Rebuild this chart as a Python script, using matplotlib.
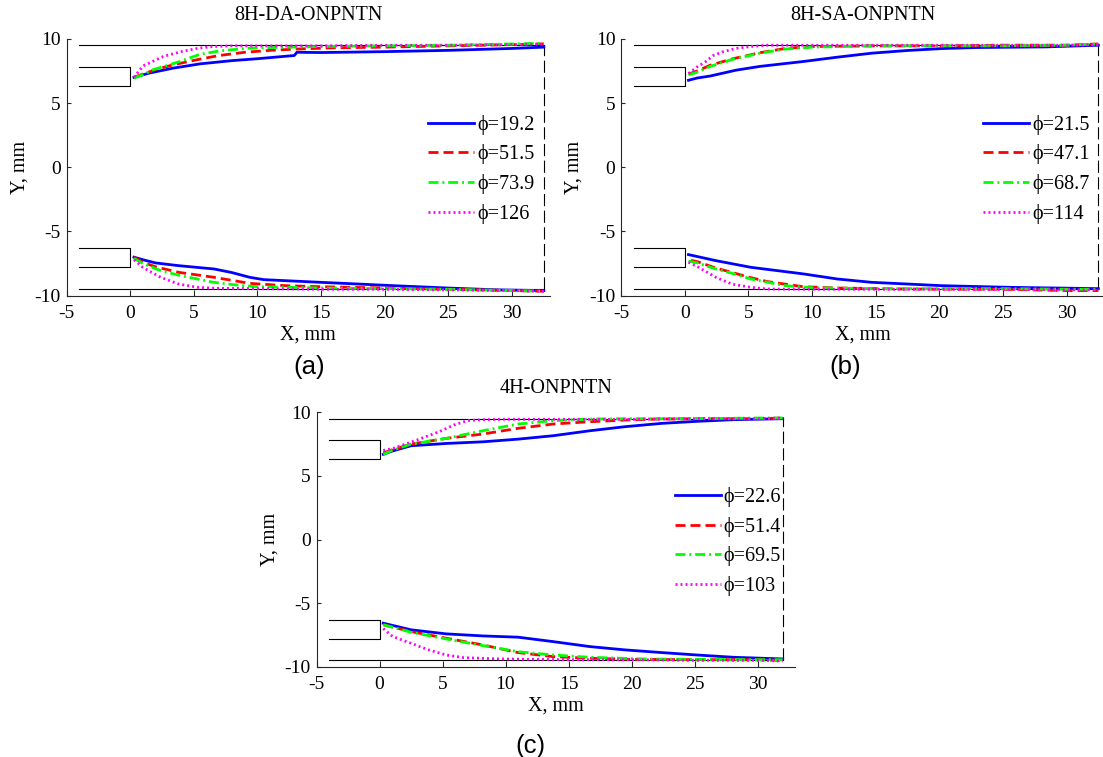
import matplotlib
matplotlib.use('Agg')
import matplotlib.pyplot as plt

plt.rcParams['font.family'] = ['Liberation Serif', 'DejaVu Serif']
plt.rcParams['axes.unicode_minus'] = False

# ---- panel (a): 8H-DA-ONPNTN ----
PHI_A = [19.2, 51.5, 73.9, 126]
A_UP_X1 = [0.3, 1.5, 3.4, 5.5, 8, 10, 12.9, 13.1, 15, 20, 25, 30, 32.5]
A_UP_Y1 = [7.0, 7.33, 7.72, 8.05, 8.3, 8.45, 8.7, 8.95, 8.93, 9.0, 9.1, 9.25, 9.35]
A_UP_X2 = [0.3, 1, 2, 3.4, 5.5, 7, 9, 11, 13, 16, 20, 25, 30, 32.5]
A_UP_Y2 = [7.0, 7.25, 7.6, 7.98, 8.42, 8.7, 8.95, 9.1, 9.2, 9.3, 9.35, 9.45, 9.55, 9.6]
A_UP_X3 = [0.3, 1, 1.8, 3, 3.9, 5.5, 7, 9, 11, 15, 20, 25, 30, 32.5]
A_UP_Y3 = [6.95, 7.2, 7.59, 7.95, 8.23, 8.8, 9.05, 9.25, 9.32, 9.4, 9.45, 9.5, 9.6, 9.65]
A_UP_X4 = [0.3, 0.7, 1.04, 2.6, 4.05, 5.36, 6.5, 8, 10, 15, 20, 25, 30, 32.5]
A_UP_Y4 = [7.0, 7.5, 7.9, 8.62, 9.01, 9.27, 9.4, 9.45, 9.45, 9.45, 9.5, 9.5, 9.55, 9.6]
A_LO_X1 = [0.3, 1, 2, 3.8, 6.6, 8, 9.4, 10.5, 12.2, 15, 17.9, 20.7, 24.9, 29, 32.5]
A_LO_Y1 = [-7.0, -7.2, -7.45, -7.66, -7.92, -8.2, -8.57, -8.75, -8.83, -8.96, -9.09, -9.22, -9.4, -9.55, -9.6]
A_LO_X2 = [0.3, 1, 2, 3.8, 6.6, 9.4, 12.2, 15, 20, 25, 30, 32.5]
A_LO_Y2 = [-7.0, -7.4, -7.75, -8.18, -8.57, -9.04, -9.22, -9.3, -9.4, -9.5, -9.6, -9.65]
A_LO_X3 = [0.3, 1, 2.4, 4, 5.3, 6.5, 8.1, 10, 15, 20, 25, 30, 32.5]
A_LO_Y3 = [-7.1, -7.5, -8.05, -8.45, -8.7, -8.95, -9.14, -9.3, -9.4, -9.45, -9.5, -9.6, -9.65]
A_LO_X4 = [0.3, 1, 2.4, 3.8, 5.3, 6.6, 10, 15, 20, 25, 30, 32.5]
A_LO_Y4 = [-7.2, -7.8, -8.57, -9.09, -9.35, -9.42, -9.45, -9.5, -9.5, -9.55, -9.6, -9.65]

# ---- panel (b): 8H-SA-ONPNTN ----
PHI_B = [21.5, 47.1, 68.7, 114]
B_UP_X1 = [0.3, 1, 2, 4, 5.9, 9.3, 12, 14.7, 17.5, 20.2, 22.9, 28.4, 32.5]
B_UP_Y1 = [6.77, 6.95, 7.1, 7.55, 7.85, 8.23, 8.57, 8.88, 9.09, 9.24, 9.32, 9.37, 9.5]
B_UP_X2 = [0.3, 1, 2, 3.84, 5.94, 7.9, 10, 15, 20, 25, 30, 32.5]
B_UP_Y2 = [7.25, 7.5, 7.94, 8.46, 8.92, 9.25, 9.4, 9.45, 9.45, 9.5, 9.5, 9.6]
B_UP_X3 = [0.3, 1, 2, 3.84, 5.94, 7.9, 10, 15, 20, 25, 30, 32.5]
B_UP_Y3 = [7.2, 7.4, 7.85, 8.42, 8.88, 9.2, 9.35, 9.45, 9.45, 9.45, 9.5, 9.6]
B_UP_X4 = [0.3, 0.97, 1.6, 2.27, 2.93, 4, 5.2, 6.5, 10, 20, 30, 32.5]
B_UP_Y4 = [7.3, 7.8, 8.19, 8.71, 8.97, 9.25, 9.4, 9.5, 9.5, 9.5, 9.5, 9.55]
B_LO_X1 = [0.3, 2.45, 5.2, 9.3, 12, 14.7, 17.5, 20.2, 25.6, 32.5]
B_LO_Y1 = [-6.8, -7.27, -7.79, -8.3, -8.7, -8.96, -9.09, -9.22, -9.35, -9.45]
B_LO_X2 = [0.5, 1, 2.45, 3.7, 5, 6.5, 9.3, 12, 17.5, 25, 30, 32.5]
B_LO_Y2 = [-7.25, -7.35, -7.85, -8.18, -8.55, -8.9, -9.3, -9.4, -9.48, -9.5, -9.6, -9.6]
B_LO_X3 = [0.3, 1, 2.45, 3.7, 5.2, 7.9, 10, 15, 20, 25, 30, 32.5]
B_LO_Y3 = [-7.3, -7.45, -7.92, -8.25, -8.7, -9.22, -9.38, -9.45, -9.45, -9.45, -9.5, -9.5]
B_LO_X4 = [0.3, 1.1, 2.45, 3.7, 5.2, 6.5, 10, 20, 32.5]
B_LO_Y4 = [-7.4, -7.79, -8.57, -9.09, -9.35, -9.48, -9.5, -9.5, -9.55]

# ---- panel (c): 4H-ONPNTN ----
PHI_C = [22.6, 51.4, 69.5, 103]
C_UP_X1 = [0.3, 1, 2.5, 5.3, 8.2, 11, 13.8, 16.7, 19.5, 22.4, 25.2, 28.1, 32]
C_UP_Y1 = [6.7, 6.95, 7.37, 7.55, 7.68, 7.89, 8.16, 8.55, 8.87, 9.13, 9.29, 9.42, 9.5]
C_UP_X2 = [0.3, 1, 2.5, 5.3, 8.2, 11, 13.8, 16.7, 19.5, 22, 26, 30, 32]
C_UP_Y2 = [6.8, 7.05, 7.5, 7.95, 8.29, 8.74, 9.08, 9.26, 9.39, 9.47, 9.5, 9.5, 9.55]
C_UP_X3 = [0.3, 1, 2.5, 5.3, 8.2, 11, 13.8, 16.7, 20, 25, 30, 32]
C_UP_Y3 = [6.7, 7.0, 7.5, 7.95, 8.55, 9.08, 9.34, 9.47, 9.5, 9.5, 9.55, 9.55]
C_UP_X4 = [0.3, 1.1, 2.97, 4.8, 5.9, 7, 8.2, 10, 15, 20, 25, 30, 32]
C_UP_Y4 = [7.0, 7.17, 7.82, 8.5, 9.0, 9.35, 9.42, 9.45, 9.45, 9.45, 9.5, 9.5, 9.55]
C_LO_X1 = [0.3, 2.5, 5.3, 8.2, 11, 13.8, 16.7, 19.5, 22.4, 25.2, 28.1, 32]
C_LO_Y1 = [-6.58, -7.1, -7.42, -7.58, -7.68, -8.03, -8.42, -8.68, -8.89, -9.08, -9.26, -9.39]
C_LO_X2 = [0.3, 2.5, 5.3, 8.2, 11, 13.8, 16.7, 20, 25, 30, 32]
C_LO_Y2 = [-6.7, -7.24, -7.76, -8.29, -8.89, -9.21, -9.34, -9.42, -9.45, -9.45, -9.5]
C_LO_X3 = [0.3, 2.5, 5.3, 8.2, 11, 13.8, 16.7, 20.9, 25, 30, 32]
C_LO_Y3 = [-6.7, -7.29, -7.82, -8.34, -8.82, -9.08, -9.26, -9.39, -9.42, -9.45, -9.45]
C_LO_X4 = [0.3, 1.05, 2.5, 3.9, 5.3, 6.7, 9.6, 15, 20, 25, 30, 32]
C_LO_Y4 = [-7.0, -7.63, -8.16, -8.68, -9.08, -9.29, -9.39, -9.45, -9.45, -9.5, -9.5, -9.55]

X_TICKS = [-5, 0, 5, 10, 15, 20, 25, 30]
Y_TICKS = [-10, -5, 0, 5, 10]

# line styles for the four flow rates
COLORS = ['#0000ff', '#ff0000', '#00ff00', '#ff00ff']
STYLES = ['-', (0, (3.6, 1.8)), (0, (3.6, 1.4, 0.7, 1.4)), (0, (0.7, 1.1))]
FS = 14.5
FS_TICK = 14


def draw_panel(ax, title, phis, upper, lower, x_end):
    # chamber walls and inlet slots
    ax.plot([-4, x_end], [9.5, 9.5], color='black', lw=0.8)
    ax.plot([-4, x_end], [-9.5, -9.5], color='black', lw=0.8)
    for s in (1, -1):
        ax.plot([-4, 0, 0, -4], [7.8 * s, 7.8 * s, 6.3 * s, 6.3 * s], color='black', lw=0.8)
    ax.plot([x_end, x_end], [-9.5, 9.5], color='black', lw=0.8, linestyle=(0, (11, 4)))

    handles = []
    for i in range(4):
        h, = ax.plot(upper[i][0], upper[i][1], color=COLORS[i], ls=STYLES[i], lw=2.0)
        ax.plot(lower[i][0], lower[i][1], color=COLORS[i], ls=STYLES[i], lw=2.0)
        handles.append(h)
    labels = ['\u03d5=%g' % p for p in phis]
    ax.legend(handles, labels, loc='center left', bbox_to_anchor=(23.42, -0.15),
              bbox_transform=ax.transData, frameon=False, borderpad=0, borderaxespad=0,
              handlelength=2.29, handletextpad=0.15, labelspacing=0.48, fontsize=FS)

    ax.set_xlim(-5, 33)
    ax.set_ylim(-10, 10)
    ax.set_xticks(X_TICKS)
    ax.set_yticks(Y_TICKS)
    for side in ('top', 'right'):
        ax.spines[side].set_visible(False)
    for side in ('left', 'bottom'):
        ax.spines[side].set_color('#262626')
        ax.spines[side].set_linewidth(0.8)
    ax.tick_params(axis='x', direction='in', length=4, width=0.8, color='#262626', pad=7, labelsize=FS_TICK)
    ax.tick_params(axis='y', direction='in', length=3, width=0.8, color='#262626', pad=4, labelsize=FS_TICK)
    ax.set_xlabel('X, mm', fontsize=FS, labelpad=2)
    ax.set_ylabel('Y, mm', fontsize=FS, labelpad=4)
    ax.set_title(title, fontsize=FS, pad=13.7)


W, H = 1103, 757
fig = plt.figure(figsize=(W / 100, H / 100), dpi=100)

ax_a = fig.add_axes([66.5 / W, 1 - 295.7 / H, 483.7 / W, 256.9 / H])
ax_b = fig.add_axes([621 / W, 1 - 295.7 / H, 483.7 / W, 256.9 / H])
ax_c = fig.add_axes([316.5 / W, 1 - 666.7 / H, 478.8 / W, 254.4 / H])

draw_panel(ax_a, '8H-DA-ONPNTN', PHI_A,
           [(A_UP_X1, A_UP_Y1), (A_UP_X2, A_UP_Y2), (A_UP_X3, A_UP_Y3), (A_UP_X4, A_UP_Y4)],
           [(A_LO_X1, A_LO_Y1), (A_LO_X2, A_LO_Y2), (A_LO_X3, A_LO_Y3), (A_LO_X4, A_LO_Y4)], 32.5)
draw_panel(ax_b, '8H-SA-ONPNTN', PHI_B,
           [(B_UP_X1, B_UP_Y1), (B_UP_X2, B_UP_Y2), (B_UP_X3, B_UP_Y3), (B_UP_X4, B_UP_Y4)],
           [(B_LO_X1, B_LO_Y1), (B_LO_X2, B_LO_Y2), (B_LO_X3, B_LO_Y3), (B_LO_X4, B_LO_Y4)], 32.5)
draw_panel(ax_c, '4H-ONPNTN', PHI_C,
           [(C_UP_X1, C_UP_Y1), (C_UP_X2, C_UP_Y2), (C_UP_X3, C_UP_Y3), (C_UP_X4, C_UP_Y4)],
           [(C_LO_X1, C_LO_Y1), (C_LO_X2, C_LO_Y2), (C_LO_X3, C_LO_Y3), (C_LO_X4, C_LO_Y4)], 32.0)

# sub-figure letters
for lbl, px, py in (('(a)', 309, 367), ('(b)', 845, 367), ('(c)', 530, 746)):
    fig.text(px / W, 1 - py / H, lbl, ha='center', va='center', fontsize=18.5, family='Liberation Sans')

fig.savefig('out.png', dpi=100)
